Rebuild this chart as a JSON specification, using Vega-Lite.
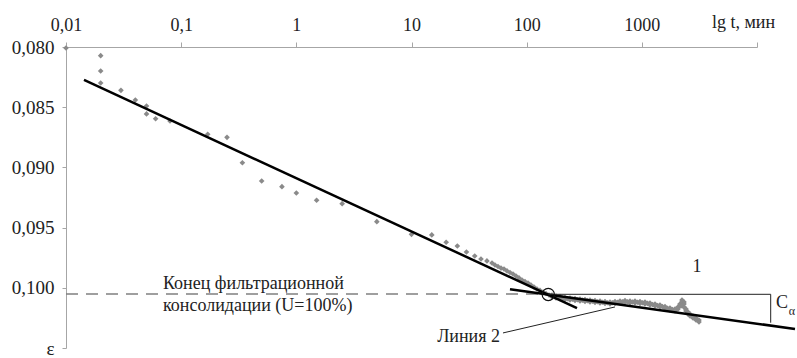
{
  "$schema": "https://vega.github.io/schema/vega-lite/v6.json",
  "width": 691,
  "height": 301,
  "autosize": "none",
  "padding": {"left": 66, "top": 47, "right": 40, "bottom": 10},
  "background": "white",
  "config": {"view": {"stroke": null}, "font": "Liberation Serif"},
  "datasets": {
    "pts": [
      {"t": 0.01, "e": 0.08008},
      {"t": 0.02, "e": 0.08072}, {"t": 0.02, "e": 0.08199}, {"t": 0.02, "e": 0.08299},
      {"t": 0.03, "e": 0.0836}, {"t": 0.04, "e": 0.0844}, {"t": 0.05, "e": 0.0849}, {"t": 0.05, "e": 0.08556},
      {"t": 0.06, "e": 0.08596}, {"t": 0.08, "e": 0.08615},
      {"t": 0.17, "e": 0.08725}, {"t": 0.25, "e": 0.0875}, {"t": 0.34, "e": 0.08961}, {"t": 0.5, "e": 0.09113},
      {"t": 0.75, "e": 0.0916}, {"t": 1, "e": 0.09213}, {"t": 1.5, "e": 0.09273}, {"t": 2.5, "e": 0.09301},
      {"t": 5, "e": 0.09451}, {"t": 10, "e": 0.09556}, {"t": 15, "e": 0.09561}, {"t": 20, "e": 0.09622},
      {"t": 25, "e": 0.09653}, {"t": 30, "e": 0.09703}, {"t": 35.4, "e": 0.09736}, {"t": 40.1, "e": 0.09761},
      {"t": 45.2, "e": 0.09777}, {"t": 50, "e": 0.09794},
      {"t": 53.07, "e": 0.09811}, {"t": 56.36, "e": 0.09823}, {"t": 59.84, "e": 0.09836}, {"t": 63.55, "e": 0.09844},
      {"t": 67.48, "e": 0.0986}, {"t": 71.66, "e": 0.09873}, {"t": 76.08, "e": 0.09885}, {"t": 80.8, "e": 0.09902},
      {"t": 85.79, "e": 0.09918}, {"t": 91.1, "e": 0.09935}, {"t": 96.7, "e": 0.09948}, {"t": 102.7, "e": 0.0996},
      {"t": 109.0, "e": 0.09977}, {"t": 115.8, "e": 0.09993}, {"t": 122.9, "e": 0.1001}, {"t": 130.5, "e": 0.10022},
      {"t": 138.6, "e": 0.10035}, {"t": 147.2, "e": 0.10047}, {"t": 156.2, "e": 0.1006},
      {"t": 165.9, "e": 0.1006}, {"t": 165.9, "e": 0.10076}, {"t": 174.4, "e": 0.10072},
      {"t": 179.7, "e": 0.10068}, {"t": 179.7, "e": 0.10084}, {"t": 188.9, "e": 0.10078},
      {"t": 194.7, "e": 0.10073}, {"t": 194.7, "e": 0.10089}, {"t": 204.7, "e": 0.10085},
      {"t": 215.1, "e": 0.10081}, {"t": 215.1, "e": 0.10097}, {"t": 226.1, "e": 0.10091},
      {"t": 237.7, "e": 0.10085}, {"t": 237.7, "e": 0.10101}, {"t": 249.9, "e": 0.10095},
      {"t": 262.8, "e": 0.10089}, {"t": 262.8, "e": 0.10105}, {"t": 276.3, "e": 0.10099},
      {"t": 290.4, "e": 0.10093}, {"t": 290.4, "e": 0.10109}, {"t": 305.3, "e": 0.10103},
      {"t": 320.9, "e": 0.10097}, {"t": 320.9, "e": 0.10113}, {"t": 337.4, "e": 0.10107},
      {"t": 354.6, "e": 0.10102}, {"t": 354.6, "e": 0.10118}, {"t": 372.8, "e": 0.10112},
      {"t": 392.0, "e": 0.10106}, {"t": 392.0, "e": 0.10122}, {"t": 412.1, "e": 0.10116},
      {"t": 433.2, "e": 0.1011}, {"t": 433.2, "e": 0.10126}, {"t": 455.4, "e": 0.1012},
      {"t": 478.6, "e": 0.10114}, {"t": 478.6, "e": 0.1013}, {"t": 503.2, "e": 0.10124},
      {"t": 529.0, "e": 0.10118}, {"t": 529.0, "e": 0.10134}, {"t": 556.1, "e": 0.10124},
      {"t": 584.7, "e": 0.10114}, {"t": 584.7, "e": 0.1013}, {"t": 614.7, "e": 0.1012},
      {"t": 646.1, "e": 0.1011}, {"t": 646.1, "e": 0.10126}, {"t": 679.2, "e": 0.10116},
      {"t": 714.0, "e": 0.10106}, {"t": 714.0, "e": 0.10122}, {"t": 750.6, "e": 0.10116},
      {"t": 789.0, "e": 0.1011}, {"t": 789.0, "e": 0.10126}, {"t": 829.5, "e": 0.10118},
      {"t": 871.9, "e": 0.1011}, {"t": 871.9, "e": 0.10126}, {"t": 916.6, "e": 0.1012},
      {"t": 963.6, "e": 0.10114}, {"t": 963.6, "e": 0.1013}, {"t": 1013, "e": 0.10124},
      {"t": 1065, "e": 0.10118}, {"t": 1065, "e": 0.10134}, {"t": 1120, "e": 0.1013},
      {"t": 1177, "e": 0.10127}, {"t": 1177, "e": 0.10143}, {"t": 1237, "e": 0.10139},
      {"t": 1301, "e": 0.10135}, {"t": 1301, "e": 0.10151}, {"t": 1368, "e": 0.10147},
      {"t": 1437, "e": 0.10143}, {"t": 1437, "e": 0.10159}, {"t": 1511, "e": 0.10157},
      {"t": 1589, "e": 0.10156}, {"t": 1589, "e": 0.10172}, {"t": 1671, "e": 0.1017},
      {"t": 1755, "e": 0.10168}, {"t": 1755, "e": 0.10184}, {"t": 1845, "e": 0.1018},
      {"t": 1940, "e": 0.10176}, {"t": 1940, "e": 0.10192},
      {"t": 2061, "e": 0.1016}, {"t": 2061, "e": 0.10176},
      {"t": 2144, "e": 0.10135}, {"t": 2144, "e": 0.10151},
      {"t": 2232, "e": 0.10102}, {"t": 2232, "e": 0.10118}, {"t": 2232, "e": 0.1015},
      {"t": 2323, "e": 0.10118}, {"t": 2323, "e": 0.10134}, {"t": 2323, "e": 0.1016},
      {"t": 2417, "e": 0.10176}, {"t": 2417, "e": 0.10192},
      {"t": 2516, "e": 0.10201}, {"t": 2516, "e": 0.10217},
      {"t": 2619, "e": 0.10218}, {"t": 2619, "e": 0.10234},
      {"t": 2781, "e": 0.10235}, {"t": 2781, "e": 0.10251},
      {"t": 2953, "e": 0.10251}, {"t": 2953, "e": 0.10267},
      {"t": 3135, "e": 0.10268}, {"t": 3135, "e": 0.10284}
    ]
  },
  "encoding": {
    "x": {
      "field": "t", "type": "quantitative",
      "scale": {"type": "log", "domain": [0.01, 10000]},
      "axis": {
        "orient": "top",
        "values": [0.01, 0.1, 1, 10, 100, 1000, 10000],
        "labelExpr": "datum.value >= 10000 ? '' : replace(format(datum.value, '~g'), '.', ',')",
        "grid": false, "tickSize": 5, "labelFlush": false,
        "domainColor": "#a6a6a6", "tickColor": "#a6a6a6",
        "labelFont": "Liberation Serif", "labelFontSize": 18, "labelColor": "#222",
        "labelBaseline": "alphabetic", "labelPadding": 12,
        "title": "lg t, мин", "titleX": 677, "titleY": -20, "titleAlign": "center",
        "titleBaseline": "alphabetic", "titleFont": "Liberation Serif", "titleFontSize": 18,
        "titleFontWeight": "normal", "titleColor": "#222"
      }
    },
    "y": {
      "field": "e", "type": "quantitative",
      "scale": {"domain": [0.08, 0.105], "reverse": true, "zero": false, "nice": false},
      "axis": {
        "values": [0.08, 0.085, 0.09, 0.095, 0.1, 0.105],
        "labelExpr": "datum.value >= 0.1049 ? 'ε' : replace(format(datum.value, '.3f'), '.', ',')",
        "grid": false, "tickSize": 4, "labelPadding": 8,
        "domainColor": "#a6a6a6", "tickColor": "#a6a6a6",
        "labelFont": "Liberation Serif", "labelFontSize": 19, "labelColor": "#222",
        "title": null
      }
    }
  },
  "layer": [
    {
      "data": {"values": [{"t": 0.01, "e": 0.10052}, {"t": 150, "e": 0.10052}]},
      "mark": {"type": "line", "color": "#808080", "strokeWidth": 1.5, "strokeDash": [12, 8]}
    },
    {
      "data": {"name": "pts"},
      "mark": {"type": "point", "shape": "diamond", "filled": true, "color": "#8a8a8a", "size": 32, "opacity": 1}
    },
    {
      "data": {"values": [{"t": 0.01433, "e": 0.08274}, {"t": 273.5, "e": 0.10168}]},
      "mark": {"type": "line", "color": "#000", "strokeWidth": 2.5, "clip": false}
    },
    {
      "data": {"values": [{"t": 71.66, "e": 0.10012}, {"t": 21370, "e": 0.10342}]},
      "mark": {"type": "line", "color": "#000", "strokeWidth": 2.5, "clip": false}
    },
    {
      "data": {"values": [{"t": 154, "e": 0.10054, "o": 1}, {"t": 13150, "e": 0.10054, "o": 2}, {"t": 13150, "e": 0.1029, "o": 3}]},
      "mark": {"type": "line", "color": "#222", "strokeWidth": 1, "clip": false},
      "encoding": {"order": {"field": "o", "type": "quantitative"}}
    },
    {
      "data": {"values": [{"t": 62.3, "e": 0.10375}, {"t": 584.7, "e": 0.10159}]},
      "mark": {"type": "line", "color": "#222", "strokeWidth": 1, "clip": false}
    },
    {
      "data": {"values": [{"t": 154, "e": 0.10055}]},
      "mark": {"type": "point", "shape": "circle", "filled": false, "color": "#111", "strokeWidth": 1.2, "size": 150, "opacity": 1}
    },
    {
      "data": {"values": [
        {"t": 0.0695, "e": 0.09965, "label": "Конец фильтрационной"},
        {"t": 0.0695, "e": 0.10148, "label": "консолидации (U=100%)"}
      ]},
      "mark": {"type": "text", "align": "left", "baseline": "middle", "font": "Liberation Serif", "fontSize": 18, "color": "#222"},
      "encoding": {"text": {"field": "label"}}
    },
    {
      "data": {"values": [{"t": 58.7, "e": 0.10409, "label": "Линия 2"}]},
      "mark": {"type": "text", "align": "right", "baseline": "middle", "font": "Liberation Serif", "fontSize": 18, "color": "#222", "clip": false},
      "encoding": {"text": {"field": "label"}}
    },
    {
      "data": {"values": [{"t": 3013, "e": 0.09827, "label": "1"}]},
      "mark": {"type": "text", "align": "center", "baseline": "middle", "font": "Liberation Serif", "fontSize": 18, "color": "#222"},
      "encoding": {"text": {"field": "label"}}
    },
    {
      "data": {"values": [{"t": 16480, "e": 0.10126, "label": "C"}]},
      "mark": {"type": "text", "align": "center", "baseline": "middle", "font": "Liberation Serif", "fontSize": 18, "color": "#222", "clip": false},
      "encoding": {"text": {"field": "label"}}
    },
    {
      "data": {"values": [{"t": 20120, "e": 0.10195, "label": "α"}]},
      "mark": {"type": "text", "align": "center", "baseline": "middle", "font": "Liberation Serif", "fontSize": 12, "color": "#222", "clip": false},
      "encoding": {"text": {"field": "label"}}
    }
  ]
}
